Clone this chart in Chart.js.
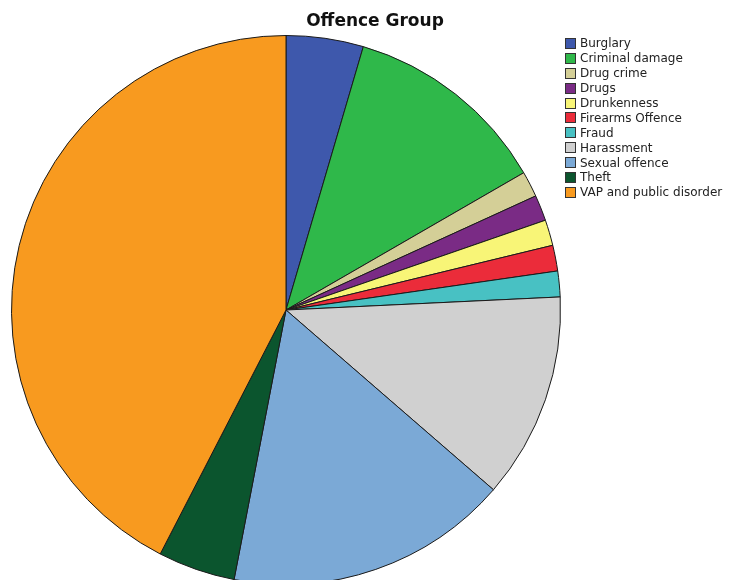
<!DOCTYPE html>
<html>
<head>
<meta charset="utf-8">
<script src="https://cdn.jsdelivr.net/npm/chart.js@4/dist/chart.umd.min.js"></script>
<style>
    body { margin: 0; width: 730px; height: 580px; overflow: hidden; background: #fff; position: relative; }
    #chart { position: absolute; left: 0; top: 0; }
    #title {
        position: absolute; left: 300px; width: 150px; top: 10px;
        text-align: center; font: bold 17px "DejaVu Sans", sans-serif; color: #111;
    }
    #legend { position: absolute; left: 565px; top: 36px; font: 12px "DejaVu Sans", sans-serif; color: #222; }
    .item { display: flex; align-items: center; height: 14.9px; white-space: nowrap; }
    .box { width: 11px; height: 11px; border: 1px solid #333; margin-right: 4px; box-sizing: border-box; }
</style>
</head>
<body>
<canvas id="chart" width="730" height="590"></canvas>
<div id="title">Offence Group</div>
<div id="legend"></div>
<script>
// Offence groups and counts
const categories = ['Burglary', 'Criminal damage', 'Drug crime', 'Drugs', 'Drunkenness',
    'Firearms Offence', 'Fraud', 'Harassment', 'Sexual offence', 'Theft', 'VAP and public disorder'];
const counts = [3, 8, 1, 1, 1, 1, 1, 8, 11, 3, 28];
const colors = ['#3e58ac', '#2fb84a', '#d4cf97', '#7a2b85', '#f8f577', '#eb2c3a',
    '#48c1c3', '#d0d0d0', '#7ba9d6', '#0b552e', '#f89a1f'];

// Legend
const legend = document.getElementById('legend');
legend.innerHTML = categories.map((c, i) =>
    `<div class="item"><span class="box" style="background:${colors[i]}"></span>${c}</div>`
).join('');

const ctx = document.getElementById('chart').getContext('2d');
new Chart(ctx, {
    type: 'pie',
    data: {
        labels: categories,
        datasets: [{
            data: counts,
            backgroundColor: colors,
            borderColor: '#1a1a1a',
            borderWidth: 1,
            hoverOffset: 0
        }]
    },
    options: {
        responsive: false,
        animation: false,
        layout: {
            padding: { left: 11, right: 169, top: 35, bottom: 5 }
        },
        plugins: {
            legend: { display: false },
            title: { display: false },
            tooltip: { enabled: false }
        }
    }
});
</script>
</body>
</html>
